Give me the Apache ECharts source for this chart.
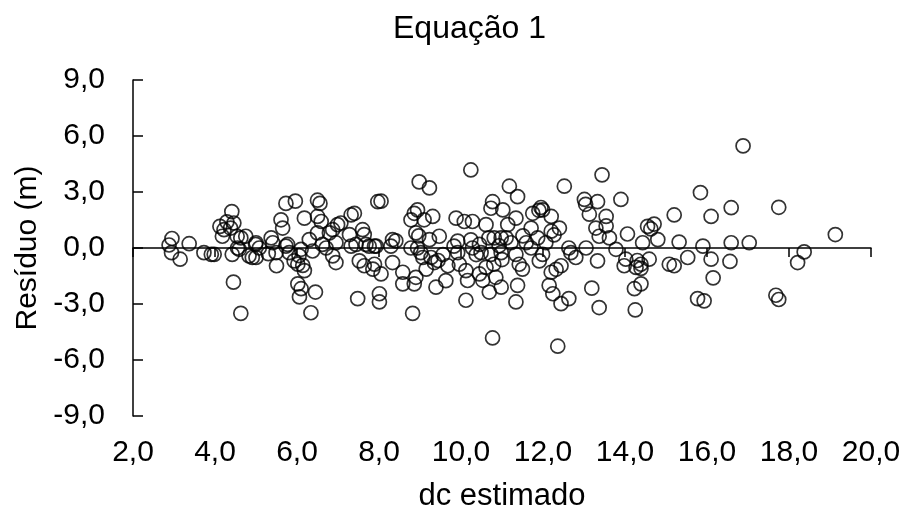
<!DOCTYPE html>
<html>
<head>
<meta charset="utf-8">
<script src="https://cdn.jsdelivr.net/npm/echarts@6/dist/echarts.min.js"></script>
<style>html,body{margin:0;padding:0;background:#fff}#c{width:904px;height:517px}</style>
</head>
<body>
<div id="c"></div>
<script>
const titleText = "Equação 1";
const xName = "dc estimado";
const yName = "Resíduo (m)";
const xTicks = [2, 4, 6, 8, 10, 12, 14, 16, 18, 20];
const yTicks = [-9, -6, -3, 0, 3, 6, 9];

const dcEstimado = [
  2.88,2.95,2.94,3.15,3.37,3.73,3.91,3.98,4.41,4.12,4.18,4.22,4.46,4.38,4.54,4.63,4.75,4.42,4.59,4.83,4.91,4.99,4.45,4.63,4.55,4.29,
  5.00,5.08,5.00,5.37,5.41,5.49,5.50,5.61,5.65,5.73,5.96,5.77,5.81,5.93,6.02,6.10,6.05,6.18,6.14,6.02,6.10,6.06,6.45,6.34,6.18,6.30,6.50,6.56,6.50,6.59,6.50,6.62,6.38,6.71,6.79,6.87,6.99,7.07,6.95,6.87,6.95,7.32,7.40,7.28,7.32,7.44,7.52,7.60,7.64,7.68,7.76,7.89,7.89,7.85,7.64,7.48,7.97,8.01,8.01,5.73,5.30,
  8.05,7.93,8.05,8.29,8.33,8.41,8.33,8.58,8.58,8.82,8.78,8.86,8.94,8.78,8.98,9.23,9.10,9.31,8.90,8.97,8.94,9.02,9.07,9.15,8.90,8.86,9.23,9.47,9.27,9.35,9.44,9.39,9.63,9.56,9.68,9.88,10.08,9.83,9.92,9.92,9.96,10.12,10.16,10.12,10.24,10.28,10.24,10.28,10.37,10.45,10.49,10.45,10.53,10.61,10.61,10.69,10.77,10.73,10.68,10.81,10.73,10.80,10.85,10.77,
  11.02,11.18,11.38,11.34,11.14,10.98,11.10,10.93,10.98,11.00,10.98,11.34,11.42,11.50,11.38,11.34,11.71,11.75,11.90,11.95,11.99,12.20,11.87,12.20,12.27,12.40,11.99,11.91,12.63,12.80,12.68,12.44,12.32,12.20,12.15,12.24,12.63,12.44,12.36,12.52,13.01,13.04,13.33,13.13,13.54,13.29,13.54,13.37,13.62,13.05,13.33,13.19,13.37,13.44,11.59,11.22,11.51,11.71,12.07,
  13.90,14.06,14.43,14.55,14.63,14.71,14.80,13.78,14.02,13.98,14.30,14.39,14.27,14.39,14.59,14.23,14.39,14.25,15.08,15.20,15.20,15.32,15.53,15.84,15.90,16.10,16.10,16.15,15.77,15.93,16.59,16.59,16.56,16.88,
  17.03,17.75,17.68,17.75,18.37,18.21,19.13
];
const residuo = [
  0.16,0.51,-0.25,-0.60,0.23,-0.25,-0.34,-0.34,1.95,1.16,0.63,0.98,1.34,1.07,0.63,0.54,0.63,-0.34,-0.07,-0.42,-0.51,0.19,-1.83,-3.50,0.00,1.40,
  0.28,0.00,-0.51,0.54,0.28,-0.25,-0.95,1.51,1.07,2.39,2.51,0.19,-0.25,-0.69,-0.87,-0.07,-0.41,-1.21,-0.93,-1.92,-2.18,-2.62,-2.36,-3.47,1.60,0.45,2.56,2.39,1.69,1.42,0.81,0.19,-0.16,0.00,0.81,0.98,1.25,1.34,0.28,-0.42,-0.78,1.77,1.86,0.72,0.10,0.19,-0.69,0.98,0.72,0.19,0.10,0.10,-0.87,-1.13,-0.95,-2.71,2.48,-2.45,-2.89,0.10,-0.30,
  2.51,0.10,-1.39,0.10,0.45,0.38,-0.78,-1.30,-1.92,-3.50,0.00,1.86,2.04,1.51,3.54,3.22,1.51,1.69,0.81,0.65,0.00,-0.25,-0.51,-1.13,-1.57,-1.92,0.45,0.63,-0.51,-0.78,-0.67,-2.10,-1.75,-0.35,-0.95,1.60,1.42,0.10,-0.25,0.37,-0.87,-1.21,-1.74,-2.80,4.18,1.42,0.44,0.00,-0.35,0.19,-0.25,-1.39,-1.73,1.25,-1.04,-2.36,2.48,2.13,0.54,0.54,-0.34,-0.87,-1.57,-4.82,
  2.04,3.31,2.75,1.60,1.25,0.54,0.54,0.12,-0.25,-0.62,-2.10,-0.34,-0.87,-1.13,-2.00,-2.89,1.07,1.86,2.02,2.17,2.04,1.69,0.54,0.90,0.70,1.07,-0.34,-0.69,0.00,-0.51,-0.25,-0.95,-1.14,-1.30,-2.00,-2.45,-2.71,-2.98,-5.26,3.31,2.60,2.34,2.48,1.81,1.69,1.07,1.18,0.63,0.54,0.00,-0.69,-2.15,-3.19,3.92,0.28,0.28,0.65,0.00,0.28,
  2.60,0.75,0.28,1.16,1.02,1.28,0.45,-0.07,-0.60,-0.95,-0.67,-0.87,-1.04,-1.09,-0.60,-2.18,-1.92,-3.32,-0.87,-0.95,1.77,0.32,-0.51,2.97,0.10,1.69,-0.60,-1.60,-2.71,-2.83,2.16,0.28,-0.72,5.47,
  0.28,2.18,-2.53,-2.76,-0.21,-0.78,0.72
];

const points = dcEstimado.map((x, i) => [x, residuo[i]]);
const fmt = v => v.toFixed(1).replace('.', ',');
const FONT = 'Liberation Sans, Arial, sans-serif';

const chart = echarts.init(document.getElementById('c'), null, {renderer: 'canvas'});
chart.setOption({
  animation: false,
  backgroundColor: '#ffffff',
  title: {
    text: titleText, left: 388, top: 8,
    textStyle: {fontFamily: FONT, fontSize: 32, fontWeight: 'normal', color: '#000'}
  },
  grid: {left: 133, right: 33, top: 80, bottom: 96, containLabel: false},
  xAxis: [{
    type: 'value', min: xTicks[0], max: xTicks[xTicks.length - 1], interval: 2,
    position: 'bottom',
    name: xName, nameLocation: 'middle', nameGap: 65,
    nameTextStyle: {fontFamily: FONT, fontSize: 31, color: '#000'},
    axisLine: {show: false, onZero: false},
    axisTick: {show: false},
    splitLine: {show: false},
    axisLabel: {fontFamily: FONT, fontSize: 30, color: '#000', margin: 22, formatter: fmt}
  }, {
    type: 'value', min: xTicks[0], max: xTicks[xTicks.length - 1], interval: 2,
    position: 'bottom',
    axisLine: {show: true, onZero: true, lineStyle: {color: '#000', width: 1.5}},
    axisTick: {show: true, inside: false, length: 9, lineStyle: {color: '#000', width: 1.5}},
    axisLabel: {show: false},
    splitLine: {show: false}
  }],
  yAxis: {
    type: 'value', min: yTicks[0], max: yTicks[yTicks.length - 1], interval: 3,
    name: yName, nameLocation: 'middle', nameGap: 88, nameRotate: 90,
    nameTextStyle: {fontFamily: FONT, fontSize: 30, color: '#000'},
    axisLine: {show: true, lineStyle: {color: '#000', width: 1.5}},
    axisTick: {show: true, inside: true, length: 10, lineStyle: {color: '#000', width: 1.5}},
    splitLine: {show: false},
    axisLabel: {fontFamily: FONT, fontSize: 30, color: '#000', margin: 28, formatter: fmt}
  },
  series: [{
    type: 'scatter',
    xAxisIndex: 0,
    data: points,
    symbol: 'circle',
    symbolSize: 14,
    itemStyle: {color: 'rgba(0,0,0,0)', borderColor: '#000', borderWidth: 1.7}
  }]
});
</script>
</body>
</html>
